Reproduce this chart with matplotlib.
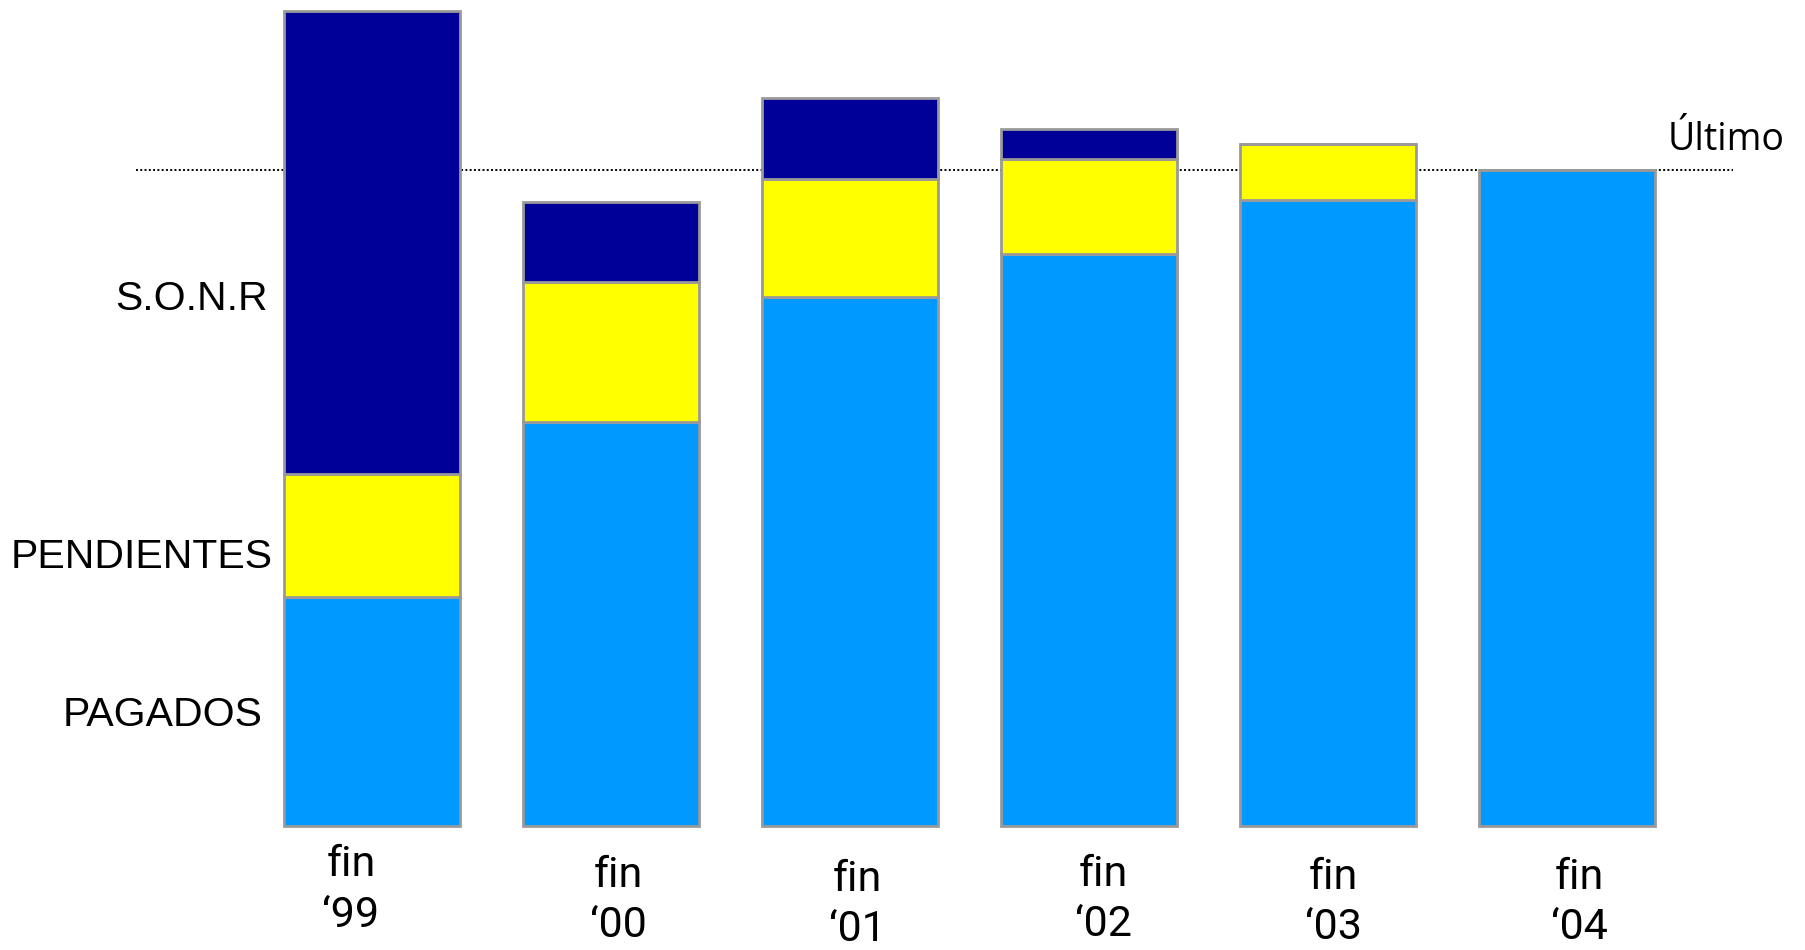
import numpy as np
import matplotlib.pyplot as plt

# datos (unidades relativas, Último = 100)
periodos = ["fin\n‘99", "fin\n‘00", "fin\n‘01", "fin\n‘02", "fin\n‘03", "fin\n‘04"]
pagados = [34.9, 61.6, 80.6, 87.2, 95.4, 100.0]
pendientes = [18.8, 21.3, 18.1, 14.5, 8.5, 0.0]
sonr = [70.6, 12.2, 12.3, 4.6, 0.0, 0.0]
ultimo = 100.0

series = ["PAGADOS", "PENDIENTES", "S.O.N.R"]
colores = ["#0099ff", "#ffff00", "#000099"]

# posicion de los textos (no son datos)
dx_etiquetas = [-0.09, 0.03, 0.03, 0.06, 0.02, 0.05]
dy_etiquetas = [0.063, 0.052, 0.048, 0.053, 0.050, 0.050]
pos_series = [(-0.454, 16.9), (-0.412, 41.0), (-0.433, 80.4)]

fig = plt.figure(figsize=(18.06, 9.5), dpi=100)
ax = fig.add_axes([0, 0, 1, 1])
ax.set_xlim(-371.5 / 239, (1806 - 371.5) / 239)
ax.set_ylim(-124 / 6.56, 826 / 6.56)
ax.axis('off')

x = np.arange(len(periodos)) + 0.004
ancho = 176 / 239

# linea de referencia, detras de las barras
ax.hlines(ultimo, -0.985, 5.697, colors='black', linestyles=(0, (1, 1.2)),
          linewidth=1.4, zorder=1)
ax.text(5.425, ultimo + 3.0, "Último", family=['Open Sans', 'DejaVu Sans'],
        fontsize=27, ha='left', va='baseline')

base = np.zeros(len(periodos))
for valores, color in zip([pagados, pendientes, sonr], colores):
    ax.bar(x, valores, ancho, bottom=base, color=color, edgecolor='#999999',
           linewidth=2.0, zorder=2)
    base = base + np.array(valores)

for (px, py), nombre in zip(pos_series, series):
    ax.text(px, py, nombre, family=['Liberation Sans', 'DejaVu Sans'],
            fontsize=29.5, ha='right', va='center')

for i, texto in enumerate(periodos):
    ax.text(x[i] + dx_etiquetas[i], dy_etiquetas[i], texto,
            transform=ax.get_xaxis_transform(), family=['Roboto', 'DejaVu Sans'],
            fontsize=31, ha='center', va='center', linespacing=1.3)

fig.savefig('out.png', dpi=100)
